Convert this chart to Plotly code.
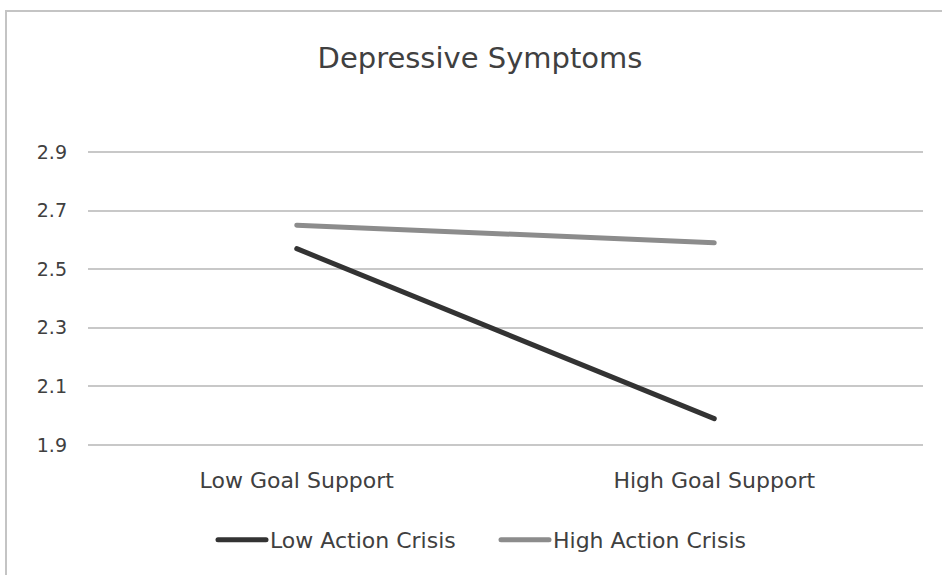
import plotly.graph_objects as go

categories = ["Low Goal Support", "High Goal Support"]
low_action_crisis = [2.57, 1.99]
high_action_crisis = [2.65, 2.59]
y_ticks = [1.9, 2.1, 2.3, 2.5, 2.7, 2.9]
y_tick_labels = ["1.9", "2.1", "2.3", "2.5", "2.7", "2.9"]

FONT = "DejaVu Sans"
TXT = "#404040"

fig = go.Figure()
fig.add_trace(go.Scatter(x=categories, y=low_action_crisis, mode="lines",
                         name="Low Action Crisis",
                         line=dict(color="#333333", width=5)))
fig.add_trace(go.Scatter(x=categories, y=high_action_crisis, mode="lines",
                         name="High Action Crisis",
                         line=dict(color="#8c8c8c", width=5)))

W, H = 942, 575
L, R, T, B = 88, 19, 149, 127
pw, ph = W - L - R, H - T - B

fig.update_layout(
    width=W, height=H,
    margin=dict(l=L, r=R, t=T, b=B, autoexpand=False),
    paper_bgcolor="white", plot_bgcolor="white",
    font=dict(family=FONT, color=TXT, size=22),
    title=dict(text="Depressive Symptoms", x=480 / W, xanchor="center",
               y=1 - 58 / H, yanchor="middle",
               font=dict(family=FONT, size=29, color=TXT)),
    showlegend=True,
    legend=dict(orientation="h", x=215 / W, xref="container",
                xanchor="left",
                y=-(540 - (H - B)) / ph, yanchor="middle",
                font=dict(size=22, color=TXT),
                itemwidth=45, tracegroupgap=0, entrywidth=223),
    xaxis=dict(type="category", range=[-0.5, 1.5], showgrid=False,
               showline=False, ticks="", ticklabelstandoff=17,
               automargin=False,
               tickfont=dict(size=22, color=TXT), zeroline=False),
    yaxis=dict(range=[1.89, 2.91], tickvals=y_ticks, ticktext=y_tick_labels,
               showgrid=True, gridcolor="#c8c8c8", gridwidth=1.5,
               showline=False, zeroline=False, ticks="", automargin=False,
               ticklabelstandoff=20, tickfont=dict(size=19, color=TXT)),
)

# chart border (cropped at right and bottom)
x0 = (6 - L) / pw
y1 = (H - B - 11) / ph
fig.add_shape(type="rect", xref="paper", yref="paper",
              x0=x0, x1=(W + 5 - L) / pw, y0=-(B + 5) / ph, y1=y1,
              line=dict(color="#c4c4c4", width=2), fillcolor="rgba(0,0,0,0)",
              layer="below")

fig.write_html("out.html", config={"displayModeBar": False},
               post_script="document.body.style.margin='0';"
                           "document.querySelectorAll('.scatterlayer path.js-line')"
                           ".forEach(function(p){p.style.strokeLinecap='round';});"
                           "document.querySelectorAll('.legend .legendlines path')"
                           ".forEach(function(p){p.setAttribute('d','M3,0h48');"
                           "p.style.strokeLinecap='round';});")
